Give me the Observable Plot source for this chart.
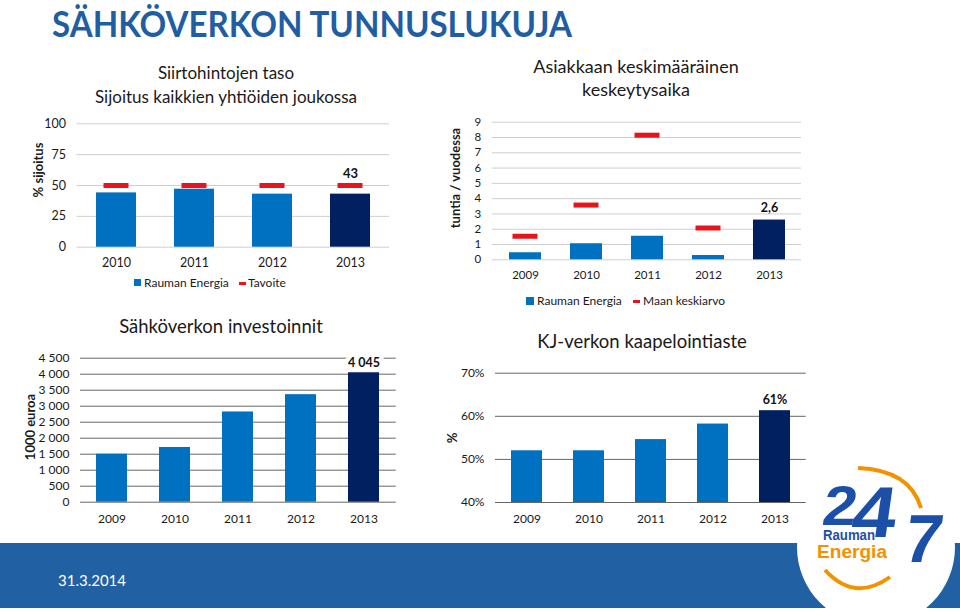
<!DOCTYPE html>
<html><head><meta charset="utf-8">
<script src="https://cdn.jsdelivr.net/npm/d3@7"></script>
<script src="https://cdn.jsdelivr.net/npm/@observablehq/plot@0.6"></script>
<style>
html,body{margin:0;padding:0;background:#fff;}
#page{position:relative;width:960px;height:612px;overflow:hidden;font-family:Lato,"Open Sans",sans-serif;color:#1a1a1a;}
.title{position:absolute;text-align:center;white-space:nowrap;font-size:17px;line-height:24px;width:500px;color:#1a1a1a;}
.ylab{position:absolute;font-weight:bold;font-size:13px;transform:translate(-50%,-50%) rotate(-90deg);white-space:nowrap;color:#1a1a1a;}
.leg{position:absolute;font-size:12px;line-height:14px;white-space:nowrap;color:#1a1a1a;}
.sw{position:absolute;}
</style></head><body>
<div id="page"></div>
<script>
// ---- data ----
const years1 = ["2010", "2011", "2012", "2013"];
const sijoitus = [44, 47, 43, 43];
const tavoite = [50, 50, 50, 50];
const ticks1 = [0, 25, 50, 75, 100];
const tickLabels1 = ["0", "25", "50", "75", "100"];
const label1 = "43";

const years2 = ["2009", "2010", "2011", "2012", "2013"];
const keskeytysaika = [0.46, 1.05, 1.54, 0.28, 2.6];
const maanKeskiarvo = [1.54, 3.58, 8.15, 2.08, null];
const ticks2 = [0, 1, 2, 3, 4, 5, 6, 7, 8, 9];
const tickLabels2 = ["0", "1", "2", "3", "4", "5", "6", "7", "8", "9"];
const label2 = "2,6";

const years3 = ["2009", "2010", "2011", "2012", "2013"];
const investoinnit = [1500, 1710, 2820, 3360, 4045];
const ticks3 = [0, 500, 1000, 1500, 2000, 2500, 3000, 3500, 4000, 4500];
const tickLabels3 = ["0", "500", "1 000", "1 500", "2 000", "2 500", "3 000", "3 500", "4 000", "4 500"];
const label3 = "4 045";

const years4 = ["2009", "2010", "2011", "2012", "2013"];
const kaapelointiaste = [52, 52, 54.6, 58.2, 61.3];
const ticks4 = [40, 50, 60, 70];
const tickLabels4 = ["40%", "50%", "60%", "70%"];
const label4 = "61%";

// ---- styles ----
const BLUE = "#0070c0", NAVY = "#002060", RED = "#e8141b", BAND = "#2060a3";
const FONT = "Lato, 'Open Sans', sans-serif";
const page = document.getElementById("page");

function makeChart(c) {
  const data = c.years.map((year, i) => ({year, value: c.values[i], ref: c.refs ? c.refs[i] : null}));
  const last = c.years[c.years.length - 1];
  const [L, T, W, H] = c.box;
  const [x0, x1, y0, y1] = c.frame;
  const marks = [
    Plot.ruleY(c.ticks, {stroke: c.grid, strokeWidth: 1}),
    Plot.barY(data.filter(d => d.year !== last), {x: "year", y1: c.yDomain[0], y2: "value", fill: BLUE}),
    Plot.barY(data.filter(d => d.year === last), {x: "year", y1: c.yDomain[0], y2: "value", fill: NAVY})
  ];
  if (c.refs) {
    marks.push(Plot.tickY(data.filter(d => d.ref != null), {x: "year", y: "ref", stroke: RED, strokeWidth: 5, insetLeft: c.inset, insetRight: c.inset}));
  }
  const textOpts = {x: "year", y: "value", text: () => c.label, dy: c.labelDy, fontWeight: "bold", fontSize: c.labelSize, fill: "#111"};
  if (c.halo) Object.assign(textOpts, {stroke: "white", strokeWidth: 9, paintOrder: "stroke"});
  marks.push(Plot.text(data.filter(d => d.year === last), textOpts));
  const svg = Plot.plot({
    width: W, height: H,
    marginLeft: x0 - L, marginRight: L + W - x1, marginTop: y0 - T, marginBottom: T + H - y1,
    x: {domain: c.years, paddingInner: c.pad, paddingOuter: c.pad / 2, label: null, tickSize: 0, tickPadding: c.xPad},
    y: {domain: c.yDomain, ticks: c.ticks, tickFormat: d => c.tickLabels[c.ticks.indexOf(d)], label: null, tickSize: 0, tickPadding: 11},
    style: {fontFamily: FONT, fontSize: c.fontSize + "px", color: "#1a1a1a", background: "transparent", overflow: "visible", maxWidth: "none"},
    marks
  });
  svg.style.position = "absolute";
  svg.style.left = L + "px";
  svg.style.top = T + "px";
  page.appendChild(svg);
}

// footer band
const band = document.createElement("div");
Object.assign(band.style, {position: "absolute", left: "0px", top: "543px", width: "960px", height: "65px", background: BAND});
page.appendChild(band);

makeChart({years: years1, values: sijoitus, refs: tavoite, yDomain: [0, 100], ticks: ticks1, tickLabels: tickLabels1,
  box: [0, 110, 420, 170], frame: [76.5, 389, 123.3, 246.7], pad: 0.488, inset: 7.5, grid: "#cfcfcf",
  label: label1, labelDy: -20, labelSize: 13, fontSize: 12.5, xPad: 11});

makeChart({years: years2, values: keskeytysaika, refs: maanKeskiarvo, yDomain: [0, 9], ticks: ticks2, tickLabels: tickLabels2,
  box: [430, 100, 400, 190], frame: [491.7, 801, 121.7, 259.3], pad: 0.483, inset: 3.5, grid: "#cfcfcf",
  label: label2, labelDy: -12.5, labelSize: 12.5, fontSize: 11.5, xPad: 11});

makeChart({years: years3, values: investoinnit, yDomain: [0, 4500], ticks: ticks3, tickLabels: tickLabels3,
  box: [0, 340, 420, 195], frame: [80, 395.7, 357.7, 501.7], pad: 0.51, grid: "#666666",
  label: label3, labelDy: -10, labelSize: 12.5, fontSize: 12, xPad: 12, halo: true});

makeChart({years: years4, values: kaapelointiaste, yDomain: [40, 70], ticks: ticks4, tickLabels: tickLabels4,
  box: [430, 355, 400, 180], frame: [495, 805.7, 372.7, 502], pad: 0.5, grid: "#666666",
  label: label4, labelDy: -11, labelSize: 12.5, fontSize: 12, xPad: 12});

// ---- text helpers ----
function title(text, cx, cy, size) {
  const d = document.createElement("div");
  d.className = "title";
  d.textContent = text;
  d.style.left = (cx - 250) + "px";
  d.style.top = (cy - 12) + "px";
  d.style.fontSize = size + "px";
  page.appendChild(d);
}
function ylab(text, cx, cy) {
  const d = document.createElement("div");
  d.className = "ylab";
  d.textContent = text;
  d.style.left = cx + "px";
  d.style.top = cy + "px";
  page.appendChild(d);
}
function leg(text, x, cy) {
  const d = document.createElement("div");
  d.className = "leg";
  d.textContent = text;
  d.style.left = x + "px";
  d.style.top = (cy - 7) + "px";
  page.appendChild(d);
}
function swatch(x, y, w, h, color) {
  const d = document.createElement("div");
  d.className = "sw";
  Object.assign(d.style, {left: x + "px", top: y + "px", width: w + "px", height: h + "px", background: color});
  page.appendChild(d);
}

title("Siirtohintojen taso", 226, 73, 17);
title("Sijoitus kaikkien yhtiöiden joukossa", 226, 97, 17);
title("Asiakkaan keskimääräinen", 636, 66, 18);
title("keskeytysaika", 636, 89, 18);
title("Sähköverkon investoinnit", 221, 326, 18.5);
title("KJ-verkon kaapelointiaste", 642, 341, 18.5);

ylab("% sijoitus", 38, 170);
ylab("tuntia / vuodessa", 455, 178);
ylab("1000 euroa", 30, 427);
ylab("%", 452, 438);

swatch(134, 279, 7, 7, BLUE); leg("Rauman Energia", 144, 282.7);
swatch(239, 281.5, 7, 3, RED); leg("Tavoite", 248, 282.7);
swatch(526, 297, 8, 8, BLUE); leg("Rauman Energia", 537, 301);
swatch(633, 299.5, 7, 3, RED); leg("Maan keskiarvo", 643, 301);

// main title
const ns = "http://www.w3.org/2000/svg";
const tsvg = document.createElementNS(ns, "svg");
tsvg.setAttribute("width", 960); tsvg.setAttribute("height", 56);
Object.assign(tsvg.style, {position: "absolute", left: "0px", top: "0px", overflow: "visible"});
const tt = document.createElementNS(ns, "text");
tt.setAttribute("x", 52); tt.setAttribute("y", 37);
tt.setAttribute("textLength", 520); tt.setAttribute("lengthAdjust", "spacingAndGlyphs");
Object.assign(tt.style, {fontFamily: FONT, fontWeight: "bold", fontSize: "37px", fill: "#1f5ea3"});
tt.textContent = "SÄHKÖVERKON TUNNUSLUKUJA";
tsvg.appendChild(tt);
page.appendChild(tsvg);

// footer date
const dt = document.createElement("div");
Object.assign(dt.style, {position: "absolute", left: "58px", top: "571px", fontSize: "15px", lineHeight: "18px", color: "#fff", fontFamily: FONT});
dt.textContent = "31.3.2014";
page.appendChild(dt);

// logo (decoration)
const logo = document.createElementNS(ns, "svg");
logo.setAttribute("width", 170); logo.setAttribute("height", 152);
Object.assign(logo.style, {position: "absolute", left: "790px", top: "460px"});
logo.innerHTML = `
  <circle cx="86" cy="87" r="79" fill="#fff"/>
  <path d="M 68 8 Q 120 10 131 48" fill="none" stroke="#f39200" stroke-width="4"/>
  <path d="M 35 110 Q 64.5 142.5 100 117" fill="none" stroke="#f39200" stroke-width="4"/>
  <g transform="skewX(-8)">
    <text x="40" y="65" font-family="Liberation Sans, Arial, sans-serif" font-weight="bold" font-size="56" fill="#1b4fa8" textLength="34" lengthAdjust="spacingAndGlyphs">2</text>
    <text x="70" y="77" font-family="Liberation Sans, Arial, sans-serif" font-weight="bold" font-size="72" fill="#1b4fa8" textLength="44" lengthAdjust="spacingAndGlyphs">4</text>
    <text x="126" y="102" font-family="Liberation Sans, Arial, sans-serif" font-weight="bold" font-size="68" fill="#1b4fa8">7</text>
  </g>
  <text x="33" y="80" font-family="Liberation Sans Narrow, Liberation Sans, sans-serif" font-weight="bold" font-size="14" fill="#1b4fa8" textLength="52" lengthAdjust="spacingAndGlyphs">Rauman</text>
  <text x="27" y="98" font-family="Liberation Sans Narrow, Liberation Sans, sans-serif" font-weight="bold" font-size="18" fill="#f39200" textLength="70" lengthAdjust="spacingAndGlyphs">Energia</text>
`;
page.appendChild(logo);
</script></body></html>
